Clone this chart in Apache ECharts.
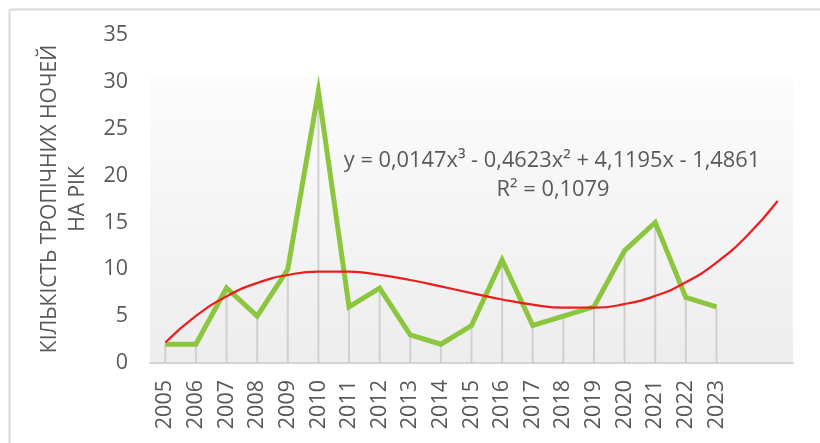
<!DOCTYPE html>
<html><head><meta charset="utf-8">
<script src="https://cdn.jsdelivr.net/npm/echarts@6/dist/echarts.min.js"></script>
<style>html,body{margin:0;padding:0;background:#fff}#c{width:820px;height:443px}</style>
</head><body><div id="c"></div>
<script>
const years = ['2005','2006','2007','2008','2009','2010','2011','2012','2013','2014','2015','2016','2017','2018','2019','2020','2021','2022','2023','',''];
const nights = [2,2,8,5,10,29,6,8,3,2,4,11,4,5,6,12,15,7,6];
const trend = [2.19,5.02,7.11,8.54,9.39,9.76,9.74,9.41,8.86,8.18,7.46,6.78,6.23,5.91,5.90,6.29,7.16,8.61,10.72,13.58,17.29];
const yTicks = [0,5,10,15,20,25,30,35];
const yTitle = 'КІЛЬКІСТЬ ТРОПІЧНИХ НОЧЕЙ\nНА РІК';
const eqText = 'y = 0,0147x³ - 0,4623x² + 4,1195x - 1,4861';
const r2Text = 'R² = 0,1079';

const FONT = '"Open Sans", sans-serif';
const chart = echarts.init(document.getElementById('c'), null, {renderer:'canvas'});
chart.setOption({
  animation: false,
  backgroundColor: '#fff',
  grid: {
    left: 150, right: 27, top: 35, bottom: 80,
    show: true, borderWidth: 0,
    backgroundColor: {type:'linear', x:0, y:0, x2:0, y2:1, colorStops:[
      {offset:0, color:'#ffffff'},{offset:0.12, color:'#ffffff'},
      {offset:0.125, color:'#fcfcfc'},{offset:1, color:'#ededed'}]}
  },
  xAxis: {
    type: 'category', data: years, boundaryGap: true,
    axisLine: {lineStyle:{color:'#d4d4d4', width:2}},
    axisTick: {show:false},
    axisLabel: {rotate:90, interval:0, color:'#595959', fontSize:21.5, fontFamily:FONT, margin:17},
    splitLine: {show:false}
  },
  yAxis: {
    type: 'value', min: yTicks[0], max: yTicks[yTicks.length-1], interval: 5,
    axisLine: {show:false}, axisTick: {show:false}, splitLine: {show:false},
    axisLabel: {color:'#595959', fontSize:21.5, fontFamily:FONT, margin:22},
    name: yTitle, nameLocation: 'middle', nameRotate: 90, nameGap: 55,
    nameTextStyle: {color:'#595959', fontSize:21, fontFamily:FONT, lineHeight:28, align:'center'}
  },
  series: [
    {type:'bar', data:nights, barWidth:2, itemStyle:{color:'#d0d0d0'}, z:1, silent:true},
    {type:'line', data:nights, symbol:'none', lineStyle:{color:'#8cc63f', width:5, join:'miter'}, z:3},
    {type:'line', data:trend, symbol:'none', smooth:0.5, lineStyle:{color:'#ee1c1c', width:2.2}, z:4}
  ],
  graphic: [
    {type:'rect', left:7, top:7, shape:{width:840, height:460, r:2}, style:{fill:'none', stroke:'#d9d9d9', lineWidth:2}, silent:true, z:-1},
    {type:'text', x:552, y:161, style:{text:eqText, fill:'#595959', font:'21.8px '+FONT, textAlign:'center', textVerticalAlign:'middle'}, z:10},
    {type:'text', x:553, y:190, style:{text:r2Text, fill:'#595959', font:'21.8px '+FONT, textAlign:'center', textVerticalAlign:'middle'}, z:10}
  ]
});
</script></body></html>
